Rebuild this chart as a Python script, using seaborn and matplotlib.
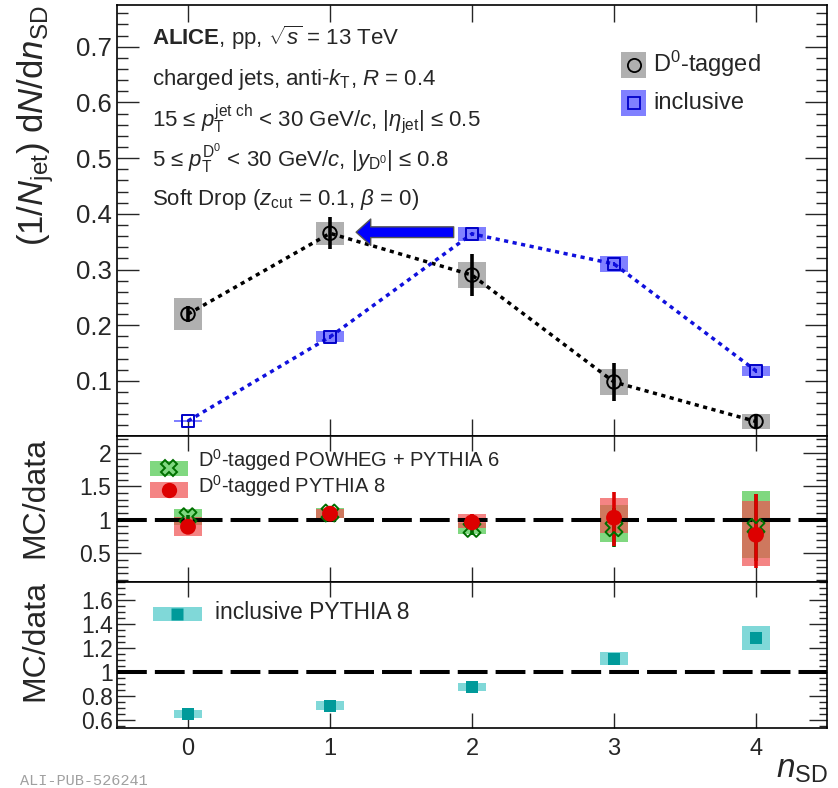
import numpy as np
import pandas as pd
import matplotlib
matplotlib.use("Agg")
import matplotlib.pyplot as plt
import seaborn as sns
from matplotlib.patches import Rectangle
from matplotlib.ticker import MultipleLocator, FormatStrFormatter, FixedLocator

# ---------------- data ----------------
n_sd = [0, 1, 2, 3, 4]
x_ticklabels = ["0", "1", "2", "3", "4"]

d0_val = [0.220, 0.365, 0.290, 0.098, 0.027]
d0_stat = [0.014, 0.029, 0.038, 0.034, 0.013]
d0_sys = [0.028, 0.021, 0.023, 0.023, 0.014]

incl_val = [0.028, 0.179, 0.364, 0.310, 0.118]
incl_stat = [0.002, 0.003, 0.004, 0.004, 0.003]
incl_sys = [0.0015, 0.010, 0.012, 0.014, 0.009]

powheg_ratio = [1.045, 1.10, 0.87, 0.88, 0.885]
powheg_stat = [0.03, 0.03, 0.10, 0.29, 0.50]
powheg_sys_lo = [0.12, 0.07, 0.08, 0.22, 0.45]
powheg_sys_hi = [0.12, 0.07, 0.08, 0.345, 0.54]

py8_ratio = [0.895, 1.09, 0.96, 1.03, 0.775]
py8_stat_lo = [0.03, 0.03, 0.12, 0.42, 0.50]
py8_stat_hi = [0.03, 0.03, 0.13, 0.38, 0.61]
py8_sys_lo = [0.135, 0.07, 0.09, 0.235, 0.465]
py8_sys_hi = [0.145, 0.07, 0.13, 0.30, 0.51]

incl_py8_ratio = [0.65, 0.72, 0.875, 1.11, 1.28]
incl_py8_stat = [0.01, 0.01, 0.01, 0.015, 0.02]
incl_py8_sys = [0.035, 0.04, 0.035, 0.055, 0.10]

# ---------------- style ----------------
sns.set_theme(style="ticks")
plt.rcParams["font.family"] = ["Liberation Sans", "DejaVu Sans"]
plt.rcParams["mathtext.fontset"] = "custom"
plt.rcParams["mathtext.rm"] = "Liberation Sans"
plt.rcParams["mathtext.it"] = "Liberation Sans:italic"
plt.rcParams["mathtext.bf"] = "Liberation Sans:bold"
plt.rcParams["mathtext.sf"] = "Liberation Sans"
plt.rcParams["axes.linewidth"] = 1.2
plt.rcParams["axes.edgecolor"] = "black"

W_PX, H_PX = 838, 788
fig = plt.figure(figsize=(W_PX / 100, H_PX / 100), dpi=100)

L = 117 / W_PX
W = 710 / W_PX
ax1 = fig.add_axes([L, 1 - 436 / H_PX, W, 431 / H_PX])
ax2 = fig.add_axes([L, 1 - 582 / H_PX, W, 146 / H_PX])
ax3 = fig.add_axes([L, 1 - 728 / H_PX, W, 146 / H_PX])

GRAY = "#b0b0b0"
BLUE_BOX = "#8080ff"
BLUE = "#1010dd"
GREEN_BOX = "#80d880"
RED_BOX = "#f05050"
CYAN_BOX = "#80d8d8"
TEAL = "#009a9a"

df = pd.DataFrame({
    "n": n_sd, "d0": d0_val, "d0_stat": d0_stat, "d0_sys": d0_sys,
    "incl": incl_val, "incl_stat": incl_stat, "incl_sys": incl_sys,
    "powheg": powheg_ratio, "py8": py8_ratio, "incl_py8": incl_py8_ratio,
})

# ---------------- top panel ----------------
ax = ax1
ax.bar(df["n"], 2 * df["d0_sys"], bottom=df["d0"] - df["d0_sys"], width=0.2,
       color=GRAY, edgecolor="none", zorder=1)
ax.bar(df["n"], 2 * df["incl_sys"], bottom=df["incl"] - df["incl_sys"], width=0.2,
       color=BLUE_BOX, edgecolor="none", zorder=1)
sns.lineplot(data=df, x="n", y="d0", ax=ax, color="black", lw=2.5,
             linestyle=(0, (1.2, 1.3)), zorder=2, estimator=None, sort=False)
sns.lineplot(data=df, x="n", y="incl", ax=ax, color=BLUE, lw=2.5,
             linestyle=(0, (1.2, 1.3)), zorder=2, estimator=None, sort=False)
ax.errorbar(df["n"], df["d0"], yerr=df["d0_stat"], fmt="none", ecolor="black",
            elinewidth=2.6, capsize=0, zorder=3)
ax.errorbar(df["n"], df["incl"], yerr=df["incl_stat"], fmt="none", ecolor=BLUE,
            elinewidth=1.5, capsize=0, zorder=3)
sns.scatterplot(data=df, x="n", y="d0", ax=ax, marker="o", s=95,
                facecolors="none", edgecolor="black", linewidth=1.4, zorder=4)
sns.scatterplot(data=df, x="n", y="incl", ax=ax, marker="s", s=80,
                facecolors="none", edgecolor="#0000c8", linewidth=1.4, zorder=4)
ax.annotate("", xy=(1.184, 0.367), xytext=(1.871, 0.367),
            arrowprops=dict(arrowstyle="simple,head_length=0.75,head_width=1.35,tail_width=0.55",
                            fc="#0000ff", ec="#555555", lw=1.0, mutation_scale=14,
                            shrinkA=0, shrinkB=0), zorder=5)

ax.set_xlim(-0.5, 4.5)
ax.set_ylim(0.001, 0.775)
ax.set_xlabel("")
ax.set_ylabel("")
ax.xaxis.set_major_locator(FixedLocator(n_sd))
ax.yaxis.set_major_locator(MultipleLocator(0.1))
ax.yaxis.set_minor_locator(MultipleLocator(0.02))
ax.yaxis.set_major_formatter(FormatStrFormatter("%.1f"))
ax.tick_params(axis="x", which="major", direction="in", top=True, bottom=True,
               length=12, width=1.0, labelbottom=False)
ax.tick_params(axis="y", which="major", direction="in", left=True, right=True,
               length=16, width=1.0, labelsize=18.5, pad=4)
ax.tick_params(axis="y", which="minor", direction="in", left=True, right=True,
               length=8, width=1.0)

# text block
tx = 0.049
lines = [
    (0.907, r"$\mathbf{ALICE}$, pp, $\sqrt{s}$ = 13 TeV"),
    (0.814, r"charged jets, anti-$k_{\mathrm{T}}$, $R$ = 0.4"),
    (0.719, r"15 ≤ $p_{\mathrm{T}}^{\mathrm{jet\ ch}}$ < 30 GeV/$c$, |$\eta_{\mathrm{jet}}$| ≤ 0.5"),
    (0.626, r"5 ≤ $p_{\mathrm{T}}^{\mathrm{D}^{0}}$ < 30 GeV/$c$, |$y_{\mathrm{D}^{0}}$| ≤ 0.8"),
    (0.536, r"Soft Drop ($z_{\mathrm{cut}}$ = 0.1, $\beta$ = 0)"),
]
for yy, s in lines:
    ax.text(tx, yy, s, transform=ax.transAxes, fontsize=16, va="baseline", ha="left")

# top legend
ax.add_patch(Rectangle((0.710, 0.8306), 0.035, 0.0604, transform=ax.transAxes,
                       facecolor=GRAY, edgecolor="none", zorder=5))
ax.plot([0.7275], [0.861], transform=ax.transAxes, marker="o", ms=9.5,
        mfc="none", mec="black", mew=1.3, zorder=6)
ax.text(0.755, 0.8445, r"D$^{0}$-tagged", transform=ax.transAxes, fontsize=17,
        va="baseline", ha="left")
ax.add_patch(Rectangle((0.710, 0.7425), 0.035, 0.0603, transform=ax.transAxes,
                       facecolor=BLUE_BOX, edgecolor="none", zorder=5))
ax.plot([0.7275], [0.7727], transform=ax.transAxes, marker="s", ms=9,
        mfc="none", mec="#0000c8", mew=1.3, zorder=6)
ax.text(0.755, 0.7587, "inclusive", transform=ax.transAxes, fontsize=17,
        va="baseline", ha="left")

# ---------------- middle panel ----------------
ax = ax2
pw_lo = np.array(powheg_sys_lo); pw_hi = np.array(powheg_sys_hi)
p8_lo = np.array(py8_sys_lo); p8_hi = np.array(py8_sys_hi)
ax.bar(df["n"], pw_lo + pw_hi, bottom=df["powheg"] - pw_lo, width=0.2,
       color=GREEN_BOX, edgecolor="none", zorder=1)
ax.bar(df["n"], p8_lo + p8_hi, bottom=df["py8"] - p8_lo, width=0.2,
       color=RED_BOX, alpha=0.7, edgecolor="none", zorder=1.5)
ax.axhline(1.0, color="black", lw=2.9, linestyle=(0, (7.4, 2.0)), zorder=2)
ax.errorbar(df["n"], df["powheg"], yerr=powheg_stat, fmt="none", ecolor="#006400",
            elinewidth=2.6, capsize=0, zorder=3)
ax.errorbar(df["n"], df["py8"], yerr=[py8_stat_lo, py8_stat_hi], fmt="none",
            ecolor="#dd0000", elinewidth=2.6, capsize=0, zorder=3.5)
sns.scatterplot(data=df, x="n", y="powheg", ax=ax, marker="X", s=150,
                facecolors="none", edgecolor="#007000", linewidth=1.4, zorder=4)
sns.scatterplot(data=df, x="n", y="py8", ax=ax, marker="o", s=130,
                color="#dd0000", edgecolor="none", linewidth=0, zorder=4.5)
ax.set_xlim(-0.5, 4.5)
ax.set_ylim(0.07, 2.25)
ax.set_xlabel("")
ax.set_ylabel("")
ax.xaxis.set_major_locator(FixedLocator(n_sd))
ax.yaxis.set_major_locator(MultipleLocator(0.5))
ax.yaxis.set_minor_locator(MultipleLocator(0.1))
ax.yaxis.set_major_formatter(FormatStrFormatter("%g"))
ax.tick_params(axis="x", which="major", direction="in", top=True, bottom=True,
               length=11, width=1.0, labelbottom=False)
ax.tick_params(axis="y", which="major", direction="in", left=True, right=True,
               length=17, width=1.0, labelsize=16.5, pad=4)
ax.tick_params(axis="y", which="minor", direction="in", left=True, right=True,
               length=8, width=1.0)

# middle legend
ax.add_patch(Rectangle((0.0465, 0.726), 0.0535, 0.103, transform=ax.transAxes,
                       facecolor=GREEN_BOX, edgecolor="none", zorder=5))
ax.plot([0.073], [0.7775], transform=ax.transAxes, marker="X", ms=12,
        mfc="none", mec="#007000", mew=1.4, zorder=6)
ax.add_patch(Rectangle((0.0465, 0.575), 0.0535, 0.11, transform=ax.transAxes,
                       facecolor=RED_BOX, alpha=0.7, edgecolor="none", zorder=5))
ax.plot([0.073], [0.63], transform=ax.transAxes, marker="o", ms=11,
        mfc="#dd0000", mec="none", zorder=6)
ax.text(0.114, 0.79, r"D$^{0}$-tagged POWHEG + PYTHIA 6", transform=ax.transAxes,
        fontsize=14.5, va="baseline", ha="left")
ax.text(0.114, 0.612, r"D$^{0}$-tagged PYTHIA 8", transform=ax.transAxes,
        fontsize=14.5, va="baseline", ha="left")

# ---------------- bottom panel ----------------
ax = ax3
isys = np.array(incl_py8_sys)
ax.bar(df["n"], 2 * isys, bottom=df["incl_py8"] - isys, width=0.2,
       color=CYAN_BOX, edgecolor="none", zorder=1)
ax.axhline(1.0, color="black", lw=2.9, linestyle=(0, (7.4, 2.0)), zorder=2)
ax.errorbar(df["n"], df["incl_py8"], yerr=incl_py8_stat, fmt="none", ecolor=TEAL,
            elinewidth=1.5, capsize=0, zorder=3)
sns.scatterplot(data=df, x="n", y="incl_py8", ax=ax, marker="s", s=75,
                color=TEAL, edgecolor="none", linewidth=0, zorder=4)
ax.set_xlim(-0.5, 4.5)
ax.set_ylim(0.533, 1.75)
ax.set_xlabel("")
ax.set_ylabel("")
ax.xaxis.set_major_locator(FixedLocator(n_sd))
ax.set_xticklabels(x_ticklabels)
ax.yaxis.set_major_locator(MultipleLocator(0.2))
ax.yaxis.set_minor_locator(MultipleLocator(0.05))
ax.yaxis.set_major_formatter(FormatStrFormatter("%g"))
ax.tick_params(axis="x", which="major", direction="in", top=True, bottom=True,
               length=11, width=1.0, labelsize=17, pad=7)
ax.tick_params(axis="y", which="major", direction="in", left=True, right=True,
               length=13, width=1.0, labelsize=16.5, pad=3)
ax.tick_params(axis="y", which="minor", direction="in", left=True, right=True,
               length=6, width=1.0)

# bottom legend
ax.add_patch(Rectangle((0.0507, 0.733), 0.069, 0.096, transform=ax.transAxes,
                       facecolor=CYAN_BOX, edgecolor="none", zorder=5))
ax.plot([0.0852], [0.781], transform=ax.transAxes, marker="s", ms=8.5,
        mfc=TEAL, mec="none", zorder=6)
ax.text(0.138, 0.747, "inclusive PYTHIA 8", transform=ax.transAxes,
        fontsize=16.5, va="baseline", ha="left")

for a in (ax1, ax2, ax3):
    for sp in a.spines.values():
        sp.set_visible(True)
        sp.set_linewidth(1.2)
        sp.set_color("black")

# ---------------- axis titles ----------------
xb = 43 / W_PX
fig.text(xb, 1 - 5 / H_PX, r"(1/$N_{\mathrm{jet}}$) d$N$/d$n_{\mathrm{SD}}$", rotation=90,
         rotation_mode="anchor", ha="right", va="baseline", fontsize=25)
fig.text(xb, 1 - 437 / H_PX, "MC/data", rotation=90, rotation_mode="anchor",
         ha="right", va="baseline", fontsize=23)
fig.text(xb, 1 - 580 / H_PX, "MC/data", rotation=90, rotation_mode="anchor",
         ha="right", va="baseline", fontsize=23)
fig.text(828 / W_PX, 1 - 778 / H_PX, r"$n_{\mathrm{SD}}$", ha="right",
         va="baseline", fontsize=24)

fig.text(20 / W_PX, 1 - 774 / H_PX, "ALI-PUB-526241", family="Liberation Mono",
         color="#a0a0a0", fontsize=11, va="top", ha="left")

fig.savefig("out.png", dpi=100)
